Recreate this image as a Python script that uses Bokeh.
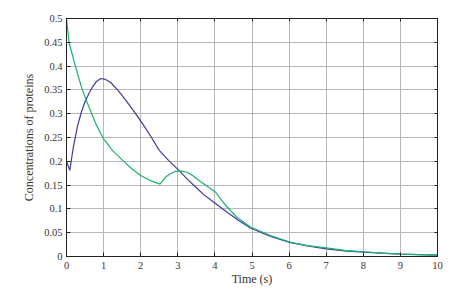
from bokeh.plotting import figure
from bokeh.models import LinearAxis, FixedTicker, Range1d
from bokeh.embed import file_html
from bokeh.resources import INLINE

# Data
blue_t = [0, 0.09, 0.18, 0.3, 0.4, 0.5, 0.6, 0.7, 0.8, 0.925, 1.05, 1.2, 1.4, 1.6, 1.8, 2.05,
          2.3, 2.5, 2.75, 3.03, 3.25, 3.48, 3.7, 3.97, 4.33, 4.65, 4.96, 5.5, 6.04, 6.5, 7.0,
          7.5, 8.0, 8.5, 9.0, 9.5, 10.0]
blue_c = [0.2, 0.181, 0.228, 0.275, 0.303, 0.325, 0.342, 0.356, 0.367, 0.374, 0.372, 0.365,
          0.348, 0.328, 0.307, 0.279, 0.249, 0.223, 0.202, 0.181, 0.163, 0.146, 0.130, 0.114,
          0.093, 0.075, 0.060, 0.042, 0.029, 0.022, 0.016, 0.012, 0.009, 0.007, 0.005, 0.004,
          0.003]

green_t = [0, 0.07, 0.25, 0.43, 0.6, 0.8, 1.0, 1.25, 1.5, 1.75, 2.0, 2.25, 2.52, 2.6, 2.67,
           2.8, 2.94, 3.08, 3.25, 3.4, 3.6, 3.8, 4.02, 4.15, 4.33, 4.6, 4.96, 5.5, 6.04, 6.5,
           7.0, 7.5, 8.0, 8.5, 9.0, 9.5, 10.0]
green_c = [0.5, 0.449, 0.397, 0.349, 0.315, 0.277, 0.247, 0.222, 0.203, 0.185, 0.170, 0.160,
           0.152, 0.160, 0.167, 0.174, 0.179, 0.1795, 0.177, 0.170, 0.158, 0.147, 0.135, 0.121,
           0.104, 0.082, 0.062, 0.044, 0.030, 0.023, 0.018, 0.013, 0.010, 0.007, 0.005, 0.004,
           0.003]

x_ticks = [0, 1, 2, 3, 4, 5, 6, 7, 8, 9, 10]
x_labels = ["0", "1", "2", "3", "4", "5", "6", "7", "8", "9", "10"]
y_ticks = [0, 0.05, 0.1, 0.15, 0.2, 0.25, 0.3, 0.35, 0.4, 0.45, 0.5]
y_labels = ["0", "0.05", "0.1", "0.15", "0.2", "0.25", "0.3", "0.35", "0.4", "0.45", "0.5"]

FONT = "Liberation Serif"
INK = "#222222"

p = figure(width=456, height=290, output_backend="svg", toolbar_location=None,
           x_range=Range1d(0, 10), y_range=Range1d(0, 0.5),
           x_axis_label="Time (s)", y_axis_label="Concentrations of proteins",
           min_border_left=66, min_border_right=19, min_border_top=18, min_border_bottom=34)
p.background_fill_color = "white"
p.border_fill_color = "white"
p.outline_line_color = INK
p.outline_line_width = 1

for ax, ticks, labels in ((p.xaxis[0], x_ticks, x_labels), (p.yaxis[0], y_ticks, y_labels)):
    ax.ticker = FixedTicker(ticks=ticks)
    ax.major_label_overrides = {t: l for t, l in zip(ticks, labels)}
    ax.minor_tick_line_color = None
    ax.major_tick_in = 4
    ax.major_tick_out = 0
    ax.major_tick_line_color = INK
    ax.axis_line_color = INK
    ax.major_label_text_font = FONT
    ax.major_label_text_font_size = "10.5px"
    ax.major_label_text_color = "#333333"
    ax.axis_label_text_font = FONT
    ax.axis_label_text_font_size = "12px"
    ax.axis_label_text_font_style = "normal"
    ax.axis_label_text_color = "#333333"

p.xaxis.major_label_standoff = 5
p.xaxis.axis_label_standoff = 0
p.yaxis.major_label_standoff = 4
p.yaxis.axis_label_standoff = 5

for loc, ticks in (("above", x_ticks), ("right", y_ticks)):
    ax = LinearAxis(ticker=FixedTicker(ticks=ticks),
                    major_label_overrides={t: "" for t in ticks},
                    major_label_text_color=None,
                    major_label_standoff=0, major_tick_in=3, major_tick_out=0,
                    minor_tick_line_color=None, major_tick_line_color=INK,
                    axis_line_color=INK)
    p.add_layout(ax, loc)

p.xgrid.ticker = FixedTicker(ticks=x_ticks)
p.ygrid.ticker = FixedTicker(ticks=y_ticks)
p.grid.grid_line_color = "#b8b8b8"
p.grid.grid_line_width = 1
p.grid.grid_line_alpha = 1

p.line(blue_t, blue_c, line_color="#3b3b9e", line_width=1.2)
p.line(green_t, green_c, line_color="#1db36b", line_width=1.2)

open("out.html", "w").write(file_html(p, INLINE))
